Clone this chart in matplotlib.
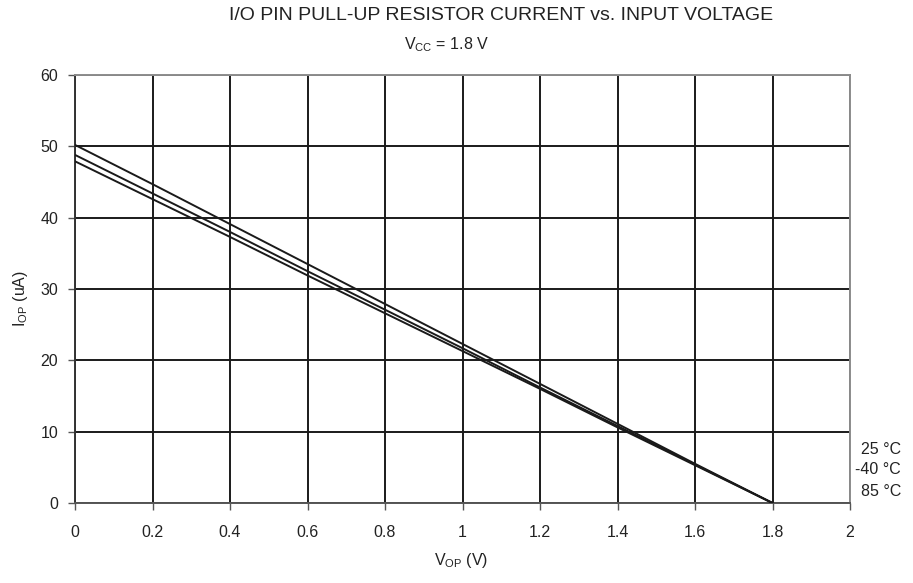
import matplotlib
matplotlib.use("Agg")
import matplotlib.pyplot as plt
import numpy as np

plt.rcParams['font.family'] = ['Liberation Sans', 'DejaVu Sans']

v_op = [0, 0.2, 0.4, 0.6, 0.8, 1.0, 1.2, 1.4, 1.6, 1.8]
i_25 = [50.2, 44.7, 39.1, 33.5, 27.9, 22.3, 16.7, 11.1, 5.5, 0]
i_m40 = [48.8, 43.4, 38.0, 32.5, 27.1, 21.7, 16.2, 10.8, 5.4, 0]
i_85 = [47.9, 42.6, 37.3, 31.9, 26.6, 21.3, 16.0, 10.6, 5.3, 0]
series_labels = ['25 °C', '-40 °C', '85 °C']
x_ticks = [0, 0.2, 0.4, 0.6, 0.8, 1, 1.2, 1.4, 1.6, 1.8, 2]
x_ticklabels = ['0', '0.2', '0.4', '0.6', '0.8', '1', '1.2', '1.4', '1.6', '1.8', '2']
y_ticks = [0, 10, 20, 30, 40, 50, 60]

W, H = 913, 583
fig = plt.figure(figsize=(W/100, H/100), dpi=100)
ax = fig.add_axes([75/W, 1-503/H, 775/W, 428/H])

for ys in (i_25, i_m40, i_85):
    ax.plot(v_op, ys, color='#1a1a1a', lw=1.4, zorder=3)

ax.set_xlim(0, 2)
ax.set_ylim(0, 60)
ax.set_xticks(x_ticks)
ax.set_xticklabels(x_ticklabels)
ax.set_yticks(y_ticks)
ax.grid(True, color='#1a1a1a', lw=1.4)
for s in ax.spines.values():
    s.set_color('#8c8c8c')
    s.set_linewidth(1.4)
ax.spines['left'].set_color('#333333')
ax.spines['bottom'].set_color('#555555')
ax.tick_params(axis='both', direction='out', length=5, width=1, color='#555555',
               labelsize=11.5, labelcolor='#222222')
ax.tick_params(axis='x', pad=11)
ax.tick_params(axis='y', pad=7)

tc = '#222222'
fig.text(461/W, 1-561/H, 'V$_\\mathregular{OP}$ (V)', ha='center', va='center',
         fontsize=11.5, color=tc)
fig.text(21/W, 1-299/H, 'I$_\\mathregular{OP}$ (uA)', ha='center', va='center',
         fontsize=11.5, color=tc, rotation=90)

fig.text(501/W, 1-15/H, 'I/O PIN PULL-UP RESISTOR CURRENT vs. INPUT VOLTAGE',
         ha='center', va='center', fontsize=14, color=tc)
fig.text(446/W, 1-45/H, 'V$_\\mathregular{CC}$ = 1.8 V', ha='center', va='center',
         fontsize=11.5, color=tc)

label_y = [449, 470, 492]
for lab, yp in zip(series_labels, label_y):
    fig.text(901/W, 1-yp/H, lab, ha='right', va='center', fontsize=11.5, color=tc)

fig.savefig('out.png', dpi=100)
